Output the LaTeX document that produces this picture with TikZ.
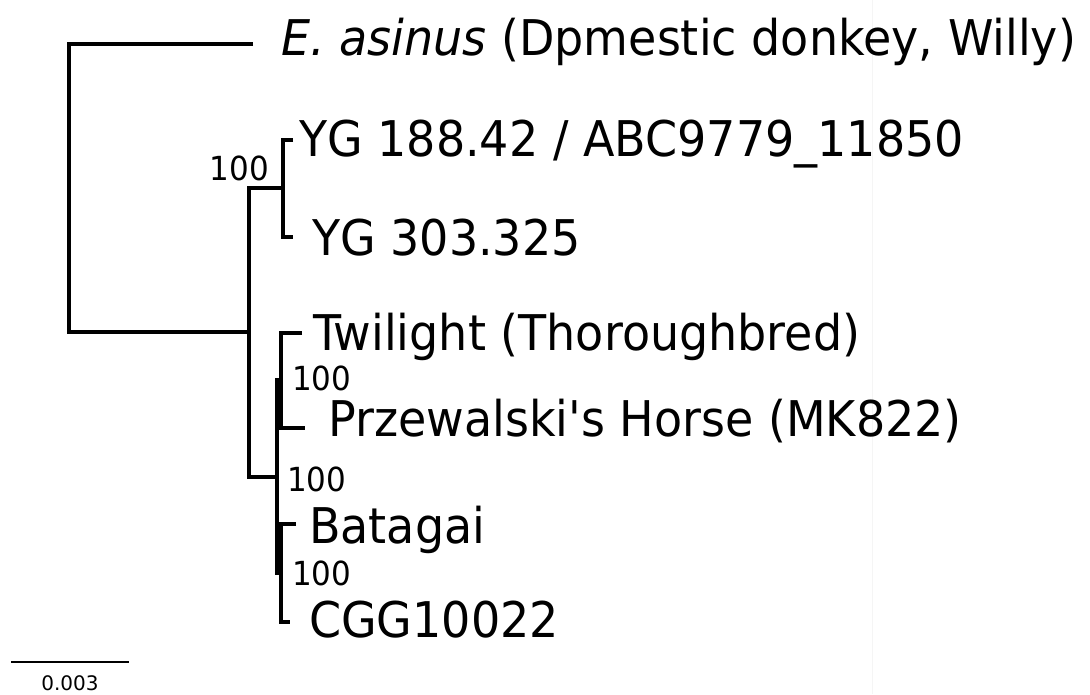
\documentclass[tikz,border=0pt]{standalone}
\usepackage{fontspec}
\setmainfont{DejaVu Sans}[Ligatures=TeXOff]
\newcommand{\tall}[1]{\scalebox{1}[1.07]{#1}}
\begin{document}
\begin{tikzpicture}[x=1pt,y=-1pt,
  branch/.style={line width=4.8pt, line join=miter, line cap=butt},
  tiplabel/.style={anchor=base west, inner sep=0pt, font=\fontsize{46}{50}\selectfont},
  support/.style={inner sep=0pt, font=\fontsize{31}{34}\selectfont},
  scalelabel/.style={anchor=base, inner sep=0pt, font=\fontsize{20}{22}\selectfont}]
\useasboundingbox[fill=white] (0,0) rectangle (1090,694);
\draw[black!4, line width=1pt] (872,0) -- (872,694);
% tree nodes
\coordinate (root) at (69,188);
\coordinate (donkey) at (253,44);
\coordinate (A) at (249,332);
\coordinate (YG) at (283,188);
\coordinate (yg1) at (293,140);
\coordinate (yg2) at (293,237);
\coordinate (H) at (277,477);
\coordinate (TP) at (281,380);
\coordinate (tw) at (302,333);
\coordinate (pz) at (305,428);
\coordinate (BC) at (281,573);
\coordinate (bat) at (296,524);
\coordinate (cgg) at (290,622);
% branches
\draw[branch] (donkey) -| (root) |- (A);
\draw[branch] (YG) -| (A) |- (H);
\draw[branch] (yg1) -| (YG) |- (yg2);
\draw[branch] (TP) -| (H) |- (BC);
\draw[branch] (tw) -| (TP) |- (pz);
\draw[branch] (bat) -| (BC) |- (cgg);
% tip labels
\node[tiplabel] (Ldonkey) at (281,55) {\tall{\textit{E. asinus} (Dpmestic donkey, Willy)}};
\node[tiplabel] (Lyg1) at (299,156) {\tall{YG 188.42 / ABC9779\_11850}};
\node[tiplabel] (Lyg2) at (312,255) {\tall{YG 303.325}};
\node[tiplabel] (Ltw) at (313,350) {\tall{Twilight (Thoroughbred)}};
\node[tiplabel] (Lpz) at (328,436) {\tall{Przewalski's Horse (MK822)}};
\node[tiplabel] (Lbat) at (309,543) {\tall{Batagai}};
\node[tiplabel] (Lcgg) at (309,637) {\tall{CGG10022}};
% support values
\node[support, anchor=base east] (sYG) at (269,180) {\tall{100}};
\node[support, anchor=base west] (sTP) at (292,390) {\tall{100}};
\node[support, anchor=base west] (sH) at (287,491) {\tall{100}};
\node[support, anchor=base west] (sBC) at (292,585) {\tall{100}};
% scale bar
\coordinate (sb1) at (11,662);
\coordinate (sb2) at (129,662);
\draw[line width=1.3pt] (sb1) -- (sb2);
\node[scalelabel] (sbl) at (70,690) {0.003};
\end{tikzpicture}
\end{document}
